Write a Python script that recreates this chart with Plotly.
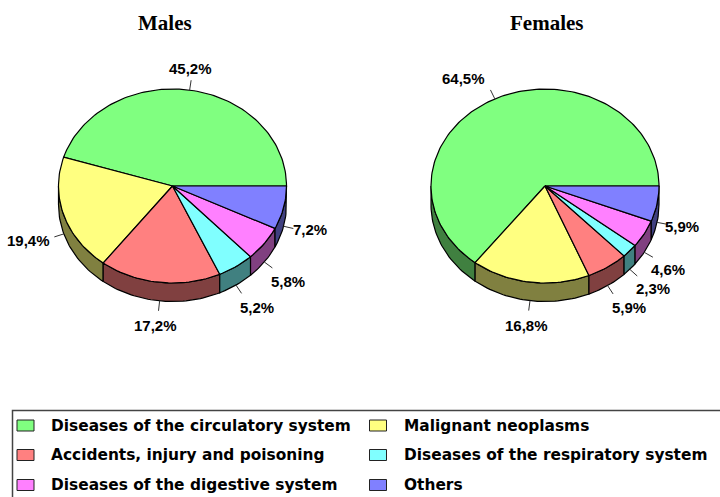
import math
import plotly.graph_objects as go

categories = ["Diseases of the circulatory system", "Malignant neoplasms",
              "Accidents, injury and poisoning", "Diseases of the respiratory system",
              "Diseases of the digestive system", "Others"]
males = [45.2, 19.4, 17.2, 5.2, 5.8, 7.2]
females = [64.5, 16.8, 5.9, 2.3, 4.6, 5.9]
pie_titles = ["Males", "Females"]

top_colors = ["#80FF80", "#FFFF80", "#FF8080", "#80FFFF", "#FF80FF", "#8080FF"]
side_colors = ["#408040", "#808040", "#804040", "#408080", "#804080", "#404080"]

W, H = 720, 497
RX, RY, DEPTH, CY = 114, 97, 18.5, 186
CENTERS = [172.5, 545]
LABEL_POS = [
    [(190, 68), (28, 240), (155, 325), (257, 307), (288, 281), (310, 229)],
    [(463, 78), (526, 325), (629, 307), (653, 288), (668, 269), (682, 226)],
]
TITLE_POS = [(165, 23), (546.5, 23)]
LEADER = 10


def pt(cx, a, dy=0.0):
    r = math.radians(a)
    return cx + RX * math.cos(r), CY - RY * math.sin(r) + dy


def arc(cx, a0, a1, dy=0.0):
    n = max(2, int(abs(a1 - a0) / 1.5) + 1)
    return [pt(cx, a0 + (a1 - a0) * i / n, dy) for i in range(n + 1)]


def poly_trace(points, color, name):
    return go.Scatter(x=[p[0] for p in points], y=[p[1] for p in points],
                      mode="lines", fill="toself", fillcolor=color,
                      line=dict(color="#000000", width=1.2), name=name,
                      hoverinfo="name", showlegend=False)


fig = go.Figure()
annotations = []
for idx, values in enumerate([males, females]):
    cx = CENTERS[idx]
    total = sum(values)
    spans, cur = [], 0.0
    for v in values:
        nxt = cur + v / total * 360
        spans.append((cur, nxt))
        cur = nxt
    for (a0, a1), col, name in zip(spans, side_colors, categories):
        s0, s1 = max(a0, 180), min(a1, 360)
        if s1 > s0:
            fig.add_trace(poly_trace(arc(cx, s0, s1) + arc(cx, s1, s0, DEPTH) + [pt(cx, s0)], col, name))
    for (a0, a1), col, name in zip(spans, top_colors, categories):
        fig.add_trace(poly_trace([(cx, CY)] + arc(cx, a0, a1) + [(cx, CY)], col, name))
    for (a0, a1), v, lp in zip(spans, values, LABEL_POS[idx]):
        mid = (a0 + a1) / 2
        dy = DEPTH if 180 < mid < 360 else 0
        x0, y0 = pt(cx, mid, dy)
        r = math.radians(mid)
        x1, y1 = x0 + LEADER * math.cos(r), y0 - LEADER * math.sin(r)
        fig.add_trace(go.Scatter(x=[x0, x1], y=[y0, y1], mode="lines",
                                 line=dict(color="#333333", width=1),
                                 hoverinfo="skip", showlegend=False))
        annotations.append(dict(x=lp[0], y=lp[1], xref="x", yref="y", showarrow=False,
                                text=f"{v:.1f}".replace(".", ",") + "%",
                                font=dict(family="Liberation Sans", size=15, color="#000000", weight=700)))
    annotations.append(dict(x=TITLE_POS[idx][0], y=TITLE_POS[idx][1], xref="x", yref="y",
                            showarrow=False, text=pie_titles[idx],
                            font=dict(family="Liberation Serif", size=21, color="#000000", weight=700)))

shapes = [dict(type="rect", x0=12.5, x1=W + 5, y0=410.5, y1=H + 5,
               line=dict(color="#444444", width=1.5), fillcolor="rgba(0,0,0,0)", layer="below")]
LEG_COLS = [(17, 49), (369.5, 402)]
LEG_ROWS = [425.5, 455, 485]
for i, (name, col) in enumerate(zip(categories, top_colors)):
    sx, tx = LEG_COLS[i % 2]
    ry = LEG_ROWS[i // 2]
    shapes.append(dict(type="rect", x0=sx, x1=sx + 17, y0=ry - 5.5, y1=ry + 5.5,
                       fillcolor=col, line=dict(color="#222222", width=1)))
    annotations.append(dict(x=tx, y=ry, xref="x", yref="y", xanchor="left", showarrow=False,
                            text=name, font=dict(family="DejaVu Sans", size=15.4, color="#000000", weight=700)))

fig.update_layout(
    width=W, height=H, margin=dict(l=0, r=0, t=0, b=0), autosize=False,
    paper_bgcolor="#FFFFFF", plot_bgcolor="#FFFFFF", showlegend=False,
    xaxis=dict(range=[0, W], visible=False, fixedrange=True),
    yaxis=dict(range=[H, 0], visible=False, fixedrange=True),
    annotations=annotations, shapes=shapes,
)
fig.write_html("out.html", config={"displayModeBar": False},
               post_script="document.body.style.margin='0';document.documentElement.style.overflow='hidden';")
